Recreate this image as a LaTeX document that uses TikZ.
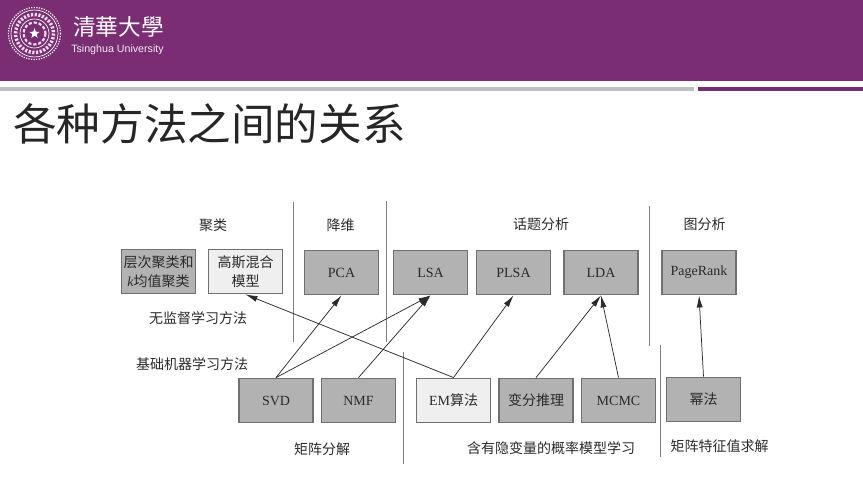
\documentclass[tikz,border=0pt]{standalone}
\usepackage{fontspec}
\setmainfont{Liberation Serif}
\newfontfamily\cjk{Noto Sans CJK SC}
\newfontfamily\arial{Liberation Sans}
\usetikzlibrary{arrows.meta,shapes.geometric}
\definecolor{thupurple}{HTML}{7B2D73}
\definecolor{boxgray}{HTML}{B2B2B2}
\definecolor{boxlight}{HTML}{EFEFEF}
\definecolor{edgegray}{HTML}{707070}
\definecolor{inkgray}{HTML}{2A2A2A}
\tikzset{
  methodbox/.style={draw=edgegray,line width=0.9pt,fill=boxgray,minimum width=55.5pt,minimum height=33.5pt,inner sep=0pt,align=center,text=inkgray,font=\fontsize{10.5}{14}\selectfont},
  lightbox/.style={methodbox,fill=boxlight},
  grouplabel/.style={inner sep=0pt,text=inkgray,font=\fontsize{10.5}{14}\selectfont\cjk},
  sepline/.style={draw=black!50,line width=0.9pt},
  linkarrow/.style={draw=inkgray,line width=0.55pt,-{Latex[length=9pt,width=4.5pt]}},
}
\begin{document}
\begin{tikzpicture}[x=0.75pt,y=0.75pt,yscale=-1,xscale=1]
    \useasboundingbox (0,0) rectangle (863,482);

    %Header band and rules
    \fill [thupurple] (0,0) rectangle (863,81);
    \fill [black!25] (0,87) rectangle (694,91);
    \fill [thupurple] (698,87) rectangle (863,91);

    %Seal
    \draw [white,line width=0.9pt,densely dotted] (34.5,33.5) circle [radius=26];
    \draw [white,line width=0.5pt] (34.5,33.5) circle [radius=23.5];
    \draw [white!85!thupurple,line width=2.6pt,dash pattern=on 1.6pt off 1.2pt] (34.5,33.5) circle [radius=19];
    \draw [white,line width=0.5pt] (34.5,33.5) circle [radius=14.5];
    \draw [white!85!thupurple,line width=1.6pt,dash pattern=on 2.4pt off 1.4pt] (34.5,33.5) circle [radius=11];
    \node [star,star points=5,star point ratio=2.4,fill=white,minimum size=8pt,inner sep=0pt] (sealstar) at (34.5,33.5) {};

    % Text Node
    \draw (118.5,27) node [inner sep=0pt,text=white,font=\fontsize{17}{17}\selectfont\cjk] (thuname) {清華大學};
    % Text Node
    \draw (117.5,50) node [inner sep=0pt,text=white!90!thupurple,font=\fontsize{8}{8}\selectfont\arial] (thuname_en) {Tsinghua University};
    % Text Node
    \draw (13,123.5) node [anchor=west,inner sep=0pt,text=black!85,font=\fontsize{32.7}{33}\selectfont\cjk] (title) {各种方法之间的关系};

    %Separators
    \draw [sepline] (293.5,202) -- (293.5,342);
    \draw [sepline] (386.5,201) -- (386.5,342);
    \draw [sepline] (403.5,352) -- (403.5,464);
    \draw [sepline] (649.5,206) -- (649.5,346);
    \draw [sepline] (660.5,345) -- (660.5,457);

    %Upper row
    \draw (158.5,271.5) node [methodbox] (hier) {{\cjk 层次聚类和}\\\textit{k}{\cjk 均值聚类}};
    \draw (245.5,271.5) node [lightbox] (gmm) {{\cjk 高斯混合}\\{\cjk 模型}};
    \draw (341.5,272.5) node [methodbox] (pca) {PCA};
    \draw (430.5,272.5) node [methodbox] (lsa) {LSA};
    \draw (513.5,272.5) node [methodbox] (plsa) {PLSA};
    \draw (601,272.5) node [methodbox] (lda) {LDA};
    \draw (699,272.5) node [methodbox] (pagerank) {PageRank};

    %Lower row
    \draw (276,400.5) node [methodbox] (svd) {SVD};
    \draw (358.5,400.5) node [methodbox] (nmf) {NMF};
    \draw (453.5,400.5) node [lightbox] (em) {EM{\cjk 算法}};
    \draw (536,400.5) node [methodbox] (varinf) {{\cjk 变分推理}};
    \draw (618.5,400.5) node [methodbox] (mcmc) {MCMC};
    \draw (703.5,399.5) node [methodbox] (power) {{\cjk 幂法}};

    %Links
    \draw [linkarrow] (svd.north) -- (pca.south);
    \draw [linkarrow] (svd.north) -- (lsa.south);
    \draw [linkarrow] (nmf.north) -- (lsa.south);
    \draw [linkarrow] (em.north) -- (gmm.south);
    \draw [linkarrow] (em.north) -- (plsa.south);
    \draw [linkarrow] (varinf.north) -- (lda.south);
    \draw [linkarrow] (mcmc.north) -- (lda.south);
    \draw [linkarrow] (power.north) -- (pagerank.south);

    % Text Node
    \draw (213,225) node [grouplabel] (clustering) {聚类};
    % Text Node
    \draw (340.5,225) node [grouplabel] (reduction) {降维};
    % Text Node
    \draw (541,224) node [grouplabel] (topic) {话题分析};
    % Text Node
    \draw (704.5,224) node [grouplabel] (graph) {图分析};
    % Text Node
    \draw (198,318) node [grouplabel] (unsup) {无监督学习方法};
    % Text Node
    \draw (192,364) node [grouplabel] (basic) {基础机器学习方法};
    % Text Node
    \draw (322,449) node [grouplabel] (matfac) {矩阵分解};
    % Text Node
    \draw (551,448) node [grouplabel] (latent) {含有隐变量的概率模型学习};
    % Text Node
    \draw (719.5,446) node [grouplabel] (eigen) {矩阵特征值求解};
\end{tikzpicture}
\end{document}
